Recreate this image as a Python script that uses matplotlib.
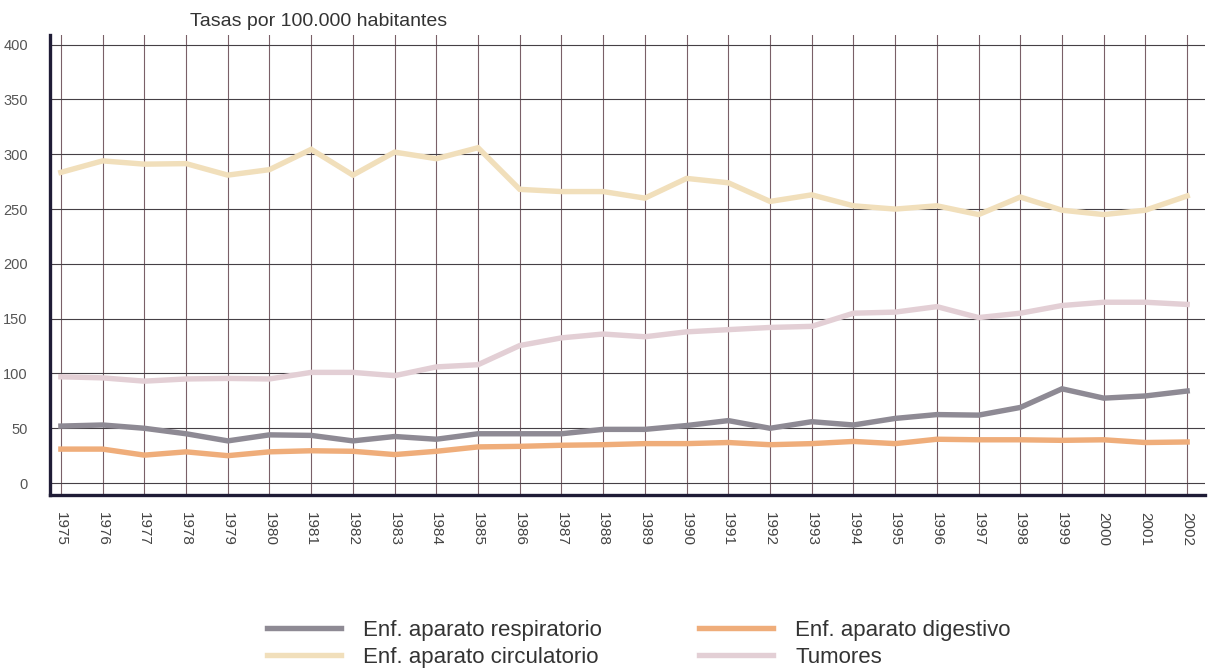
import matplotlib.pyplot as plt
from matplotlib.ticker import FixedLocator

# Datos (tasas por 100.000 habitantes)
years = list(range(1975, 2003))
respiratorio = [52, 53, 50, 45, 38.5, 44, 43.5, 38.5, 42.5, 40, 45, 45, 45, 49, 49,
                52.5, 57, 50, 56, 53, 59, 62.5, 62, 69, 86, 77.5, 79.5, 84]
circulatorio = [283.5, 294, 291, 291.5, 281, 286, 304.5, 281, 302, 296, 306, 268, 266, 266,
                260, 278, 274, 257, 263, 253, 250, 253, 245, 261, 249, 245, 249, 262]
digestivo = [31, 31, 25.5, 28.5, 25, 28.5, 29.5, 29, 26, 29, 33, 33.5, 34.5, 35, 36,
             36, 37, 35, 36, 38, 36, 40, 39.5, 39.5, 39, 39.5, 37, 37.5]
tumores = [97, 96, 93, 95, 95.5, 95, 101, 101, 98, 106, 108, 125.5, 132.5, 136, 133.5,
           138, 140, 142, 143, 155, 156, 161, 151, 155, 162, 165, 165, 163]
yticks = [0, 50, 100, 150, 200, 250, 300, 350, 400]

plt.rcParams['font.family'] = ['Liberation Sans', 'DejaVu Sans']

fig = plt.figure(figsize=(12.12, 6.70), dpi=100)
ax = fig.add_axes([0.0413, 0.261, 0.953, 0.687])

lw = 3.9
l1, = ax.plot(years, respiratorio, color='#8e8a94', lw=lw, solid_joinstyle='miter', zorder=3)
l2, = ax.plot(years, circulatorio, color='#f1dfbb', lw=lw, solid_joinstyle='miter', zorder=3)
l3, = ax.plot(years, digestivo, color='#efad7a', lw=lw, solid_joinstyle='miter', zorder=3)
l4, = ax.plot(years, tumores, color='#e3cfd5', lw=lw, solid_joinstyle='miter', zorder=3)

ax.set_xlim(1974.74, 2002.43)
ax.set_ylim(-11, 409)
ax.xaxis.set_major_locator(FixedLocator(years))
ax.yaxis.set_major_locator(FixedLocator(yticks))
ax.set_xticklabels([str(y) for y in years], rotation=-90, fontsize=11, color='#444444')
ax.set_yticklabels([str(v) for v in yticks], fontsize=10.5, color='#555555')
ax.tick_params(axis='both', length=0)
ax.tick_params(axis='x', pad=12)
ax.tick_params(axis='y', pad=16)

ax.grid(axis='y', color='#454045', lw=0.8, zorder=1)
ax.grid(axis='x', color='#7a6068', lw=0.8, zorder=1)
ax.set_axisbelow(True)

for s in ['top', 'right']:
    ax.spines[s].set_visible(False)
for s in ['left', 'bottom']:
    ax.spines[s].set_color('#1f1c36')
    ax.spines[s].set_linewidth(2.4)

fig.text(0.157, 0.955, 'Tasas por 100.000 habitantes', fontsize=14, color='#333333',
         ha='left', va='bottom')

fig.legend([l1, l2, l3, l4],
           ['Enf. aparato respiratorio', 'Enf. aparato circulatorio',
            'Enf. aparato digestivo', 'Tumores'],
           ncol=2, loc='center left', bbox_to_anchor=(0.204, 0.039),
           frameon=False, fontsize=16, handlelength=3.3, handletextpad=1.0,
           columnspacing=4.4, labelspacing=0.3, labelcolor='#333333')

fig.savefig('out.png', dpi=100, facecolor='white')
